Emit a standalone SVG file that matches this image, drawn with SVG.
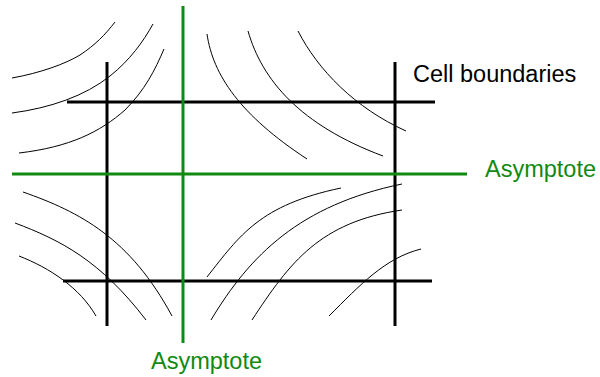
<svg xmlns="http://www.w3.org/2000/svg" width="600" height="377" viewBox="0 0 600 377">
<style>
.cell{stroke:#000;stroke-width:3;fill:none}
.asym{stroke:#108a10;stroke-width:3;fill:none}
.curve{stroke:#000;stroke-width:1;fill:none}
.lbl{font-family:"Liberation Sans",Arial,sans-serif;font-size:23.5px}
</style>
<rect width="600" height="377" fill="#fff"/>
<g id="curves">
<path class="curve" d="M12,78 C40,73 65,64 80,55 C95,45 105,35 115,22"/>
<path class="curve" d="M12,113 C50,108 85,96 110,76 C130,60 143,42 153,24"/>
<path class="curve" d="M19,153 C70,147 100,132 125,110 C145,90 155,70 164,49"/>
<path class="curve" d="M207,34 C213,75 240,115 307,159"/>
<path class="curve" d="M248,31 C262,80 300,125 383,156"/>
<path class="curve" d="M298,31 C318,70 355,108 406,131"/>
<path class="curve" d="M23,192 C80,212 130,238 172,316"/>
<path class="curve" d="M15,223 C60,240 100,260 146,320"/>
<path class="curve" d="M19,256 C50,268 80,288 96,316"/>
<path class="curve" d="M207,277 C240,235 260,205 341,188"/>
<path class="curve" d="M211,320 C250,255 300,205 402,184"/>
<path class="curve" d="M252,320 C290,262 320,222 402,210"/>
<path class="curve" d="M329,316 C360,285 385,258 421,249"/>
</g>
<g id="cell-boundaries">
<line class="cell" x1="107" y1="62" x2="107" y2="326"/>
<line class="cell" x1="395" y1="62" x2="395" y2="326"/>
<line class="cell" x1="67" y1="102" x2="435" y2="102"/>
<line class="cell" x1="63" y1="281" x2="432" y2="281"/>
</g>
<g id="asymptotes">
<line class="asym" x1="183" y1="6" x2="183" y2="343"/>
<line class="asym" x1="12" y1="174" x2="467" y2="174"/>
</g>
<g id="labels">
<text class="lbl" x="413" y="82" fill="#000">Cell boundaries</text>
<text class="lbl" x="485" y="177" fill="#108a10">Asymptote</text>
<text class="lbl" x="151" y="369" fill="#108a10">Asymptote</text>
</g>
</svg>
